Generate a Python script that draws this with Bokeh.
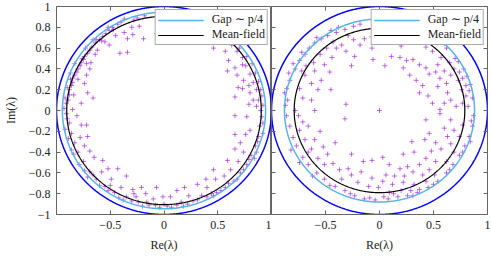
import numpy as np
from bokeh.plotting import figure
from bokeh.layouts import row
from bokeh.models import Range1d, FixedTicker, LinearAxis, Legend, LegendItem, ColumnDataSource
from bokeh.embed import file_html
from bokeh.resources import INLINE

FONT = "Liberation Serif, serif"

# ---------------- data ----------------
unit_radius = 1.0
gap_radius = [0.945, 0.88]        # "Gap ~ p/4" circle, left / right panel
meanfield_radius = [0.905, 0.79]  # mean-field circle, left / right panel

x_ticks = [-1.0, -0.5, 0.0, 0.5, 1.0]
x_tick_labels = ["", "−0.5", "0", "0.5", "1"]
y_ticks = [-1.0, -0.8, -0.6, -0.4, -0.2, 0.0, 0.2, 0.4, 0.6, 0.8, 1.0]
y_tick_labels = ["−1", "−0.8", "−0.6", "−0.4", "−0.2", "0", "0.2", "0.4", "0.6", "0.8", "1"]

left_eigs = [
    (-0.18, 0.91), (-0.37, 0.88), (-0.43, 0.83), (-0.48, 0.80), (-0.51, 0.77), (-0.54, 0.74),
    (-0.57, 0.71), (-0.60, 0.68), (-0.64, 0.65), (-0.67, 0.61), (-0.69, 0.58), (-0.71, 0.55),
    (-0.74, 0.52), (-0.75, 0.49), (-0.77, 0.46), (-0.78, 0.43), (-0.80, 0.40), (-0.81, 0.37),
    (-0.83, 0.34), (-0.85, 0.31), (-0.85, 0.27), (-0.86, 0.24), (-0.88, 0.20), (-0.88, 0.15),
    (-0.89, 0.10), (-0.91, 0.07), (-0.28, 0.87), (-0.47, 0.78), (-0.63, 0.68), (-0.76, 0.50),
    (-0.87, 0.30), (-0.92, 0.12), (-0.30, 0.80), (-0.45, 0.72), (-0.62, 0.58), (-0.72, 0.45),
    (-0.80, 0.30), (-0.84, 0.15), (-0.41, 0.55), (-0.34, 0.69), (-0.37, 0.75), (-0.29, 0.73),
    (-0.23, 0.81), (-0.07, 0.74), (-0.55, 0.66), (-0.51, 0.63), (-0.64, 0.54), (-0.68, 0.46),
    (-0.69, 0.40), (-0.72, 0.34), (-0.74, 0.26), (-0.71, 0.17), (-0.66, 0.12), (-0.77, 0.07),
    (-0.85, 0.01), (-0.34, 0.56), (-0.19, 0.69), (-0.58, 0.67),
    (0.09, 0.71), (0.19, 0.72), (0.29, 0.69), (0.40, 0.66), (0.46, 0.69), (0.52, 0.72),
    (0.46, 0.60), (0.57, 0.57), (0.60, 0.48), (0.59, 0.38), (0.66, 0.41), (0.73, 0.44),
    (0.68, 0.34), (0.74, 0.29), (0.79, 0.24), (0.73, 0.21), (0.80, 0.17), (0.83, 0.10),
    (0.79, 0.06), (0.86, 0.04), (0.59, 0.68), (0.63, 0.63), (0.68, 0.57), (0.73, 0.51),
    (0.76, 0.43), (0.80, 0.35), (0.83, 0.27), (0.86, 0.20), (0.88, 0.10), (0.66, 0.64),
    (0.77, 0.52), (0.85, 0.36), (0.90, 0.20), (0.92, 0.05), (0.69, 0.22), (0.66, 0.13),
    (-0.91, -0.03), (-0.88, -0.12), (-0.86, -0.22), (-0.83, -0.31), (-0.80, -0.40), (-0.75, -0.49),
    (-0.69, -0.59), (-0.63, -0.66), (-0.55, -0.73), (-0.46, -0.79), (-0.35, -0.83), (-0.24, -0.88),
    (-0.14, -0.91), (-0.04, -0.93), (-0.92, -0.18), (-0.86, -0.38), (-0.74, -0.58), (-0.60, -0.72),
    (-0.42, -0.84), (-0.20, -0.92), (-0.81, -0.05), (-0.77, -0.14), (-0.72, -0.14), (-0.71, -0.25),
    (-0.78, -0.26), (-0.74, -0.34), (-0.69, -0.39), (-0.65, -0.45), (-0.57, -0.48), (-0.52, -0.56),
    (-0.43, -0.56), (-0.35, -0.63), (-0.58, -0.59), (-0.49, -0.66), (-0.40, -0.74), (-0.29, -0.76),
    (-0.21, -0.74), (-0.17, -0.80), (-0.07, -0.74), (-0.10, -0.85), (-0.01, -0.83), (-0.26, -0.83),
    (0.91, -0.06), (0.89, -0.15), (0.88, -0.25), (0.85, -0.34), (0.81, -0.43), (0.77, -0.52),
    (0.71, -0.60), (0.65, -0.68), (0.57, -0.74), (0.49, -0.79), (0.40, -0.83), (0.31, -0.86),
    (0.22, -0.90), (0.12, -0.91), (0.03, -0.92), (0.92, -0.22), (0.84, -0.46), (0.68, -0.66),
    (0.46, -0.82), (0.18, -0.92), (0.77, -0.06), (0.80, -0.19), (0.76, -0.23), (0.66, -0.23),
    (0.71, -0.31), (0.66, -0.37), (0.74, -0.40), (0.59, -0.48), (0.69, -0.49), (0.46, -0.57),
    (0.62, -0.57), (0.56, -0.63), (0.48, -0.66), (0.39, -0.66), (0.31, -0.71), (0.40, -0.74),
    (0.19, -0.74), (0.12, -0.77), (0.23, -0.82), (0.06, -0.83), (0.66, -0.05),
    (-0.93, 0.02), (-0.90, -0.08), (-0.89, -0.27), (-0.84, -0.42), (-0.79, -0.52), (-0.71, -0.64),
    (-0.66, -0.62), (-0.52, -0.77), (-0.50, -0.72), (-0.38, -0.86), (-0.30, -0.87), (-0.28, -0.80),
    (-0.16, -0.88), (-0.08, -0.91), (0.00, -0.90), (0.07, -0.93), (0.16, -0.88), (0.27, -0.87),
    (0.35, -0.82), (0.44, -0.80), (0.53, -0.77), (0.60, -0.70), (0.74, -0.57), (0.79, -0.47),
    (0.86, -0.40), (0.87, -0.30), (0.92, -0.12), (0.90, 0.00), (0.91, 0.14), (0.88, 0.28),
    (0.82, 0.45), (0.70, 0.60), (-0.90, 0.22), (-0.87, 0.36), (-0.83, 0.45), (-0.73, 0.60),
    (-0.66, 0.68), (-0.52, 0.80), (-0.40, 0.85), (-0.25, 0.89),
]

right_eigs = [
    (-0.88, 0.17), (-0.86, 0.21), (-0.83, 0.29), (-0.78, 0.40), (-0.74, 0.48), (-0.69, 0.54),
    (-0.65, 0.60), (-0.60, 0.65), (-0.54, 0.69), (-0.48, 0.72), (-0.40, 0.75), (-0.32, 0.78),
    (-0.24, 0.81), (-0.18, 0.83), (-0.38, 0.80), (-0.87, 0.05), (-0.85, 0.10),
    (-0.72, 0.38), (-0.68, 0.43), (-0.69, 0.34), (-0.63, 0.26), (-0.74, 0.21), (-0.71, 0.12),
    (-0.63, 0.10), (-0.57, 0.20), (-0.54, 0.29), (-0.60, 0.38), (-0.61, 0.46), (-0.55, 0.54),
    (-0.49, 0.60), (-0.44, 0.51), (-0.51, 0.44), (-0.46, 0.37), (-0.40, 0.60), (-0.35, 0.63),
    (-0.31, 0.57), (-0.26, 0.43), (-0.24, 0.68), (-0.18, 0.63), (-0.14, 0.69), (-0.07, 0.71),
    (-0.43, 0.66), (-0.29, 0.72), (-0.07, 0.60), (-0.23, 0.52), (-0.06, 0.49), (-0.31, 0.06),
    (0.00, 0.00),
    (0.03, 0.71), (0.09, 0.69), (0.17, 0.68), (0.25, 0.69), (0.31, 0.66), (0.37, 0.68),
    (0.43, 0.61), (0.49, 0.57), (0.11, 0.52), (0.19, 0.51), (0.25, 0.48), (0.31, 0.49),
    (0.37, 0.44), (0.43, 0.41), (0.46, 0.35), (0.52, 0.37), (0.56, 0.31), (0.62, 0.26),
    (0.54, 0.23), (0.63, 0.17), (0.66, 0.10), (0.60, 0.07), (0.71, 0.04), (0.54, 0.44),
    (0.60, 0.38), (0.66, 0.34), (0.73, 0.29), (0.76, 0.20), (0.80, 0.14), (0.77, 0.07),
    (0.82, 0.04), (0.57, 0.51), (0.65, 0.46), (0.69, 0.40), (0.74, 0.37), (0.77, 0.31),
    (0.80, 0.24), (0.05, 0.43), (0.22, 0.41), (0.28, 0.34), (0.34, 0.29), (0.40, 0.24),
    (0.37, 0.17), (0.45, 0.14), (0.49, 0.07), (0.56, 0.01), (0.55, 0.66), (0.62, 0.60),
    (0.70, 0.50), (0.78, 0.40), (0.84, 0.25), (0.86, 0.12),
    (-0.86, -0.05), (-0.83, -0.15), (-0.80, -0.26), (-0.77, -0.34), (-0.71, -0.45), (-0.66, -0.52),
    (-0.58, -0.60), (-0.51, -0.66), (-0.41, -0.73), (-0.32, -0.77), (-0.23, -0.82), (-0.14, -0.85),
    (-0.04, -0.86), (-0.75, -0.05), (-0.71, -0.11), (-0.74, -0.19), (-0.66, -0.15), (-0.69, -0.28),
    (-0.60, -0.28), (-0.63, -0.37), (-0.52, -0.35), (-0.57, -0.46), (-0.48, -0.42), (-0.41, -0.31),
    (-0.32, -0.08), (-0.51, -0.52), (-0.43, -0.51), (-0.37, -0.57), (-0.26, -0.42), (-0.35, -0.66),
    (-0.26, -0.62), (-0.17, -0.59), (-0.07, -0.48), (-0.20, -0.69), (-0.10, -0.73), (-0.07, -0.65),
    (-0.01, -0.74), (-0.29, -0.56), (-0.15, -0.49),
    (0.86, -0.15), (0.83, -0.25), (0.79, -0.34), (0.74, -0.43), (0.68, -0.52), (0.62, -0.60),
    (0.54, -0.68), (0.45, -0.74), (0.35, -0.79), (0.26, -0.82), (0.17, -0.83), (0.08, -0.85),
    (0.87, -0.05), (0.56, -0.03), (0.66, -0.09), (0.43, -0.09), (0.77, -0.14), (0.69, -0.19),
    (0.60, -0.17), (0.74, -0.25), (0.63, -0.25), (0.46, -0.22), (0.42, -0.28), (0.52, -0.31),
    (0.66, -0.32), (0.57, -0.37), (0.48, -0.39), (0.69, -0.40), (0.32, -0.40), (0.22, -0.42),
    (0.03, -0.45), (0.09, -0.52), (0.43, -0.46), (0.52, -0.49), (0.62, -0.49), (0.37, -0.52),
    (0.26, -0.54), (0.19, -0.56), (0.31, -0.59), (0.46, -0.57), (0.06, -0.62), (0.14, -0.63),
    (0.23, -0.63), (0.40, -0.62), (0.51, -0.62), (0.03, -0.68), (0.12, -0.71), (0.22, -0.69),
    (0.32, -0.71), (0.43, -0.68), (0.09, -0.79), (0.20, -0.77), (0.29, -0.77), (0.37, -0.76),
    (-0.80, 0.45), (-0.72, 0.56), (-0.58, 0.70), (-0.45, 0.77), (-0.84, 0.36), (-0.82, -0.38),
    (-0.74, -0.50), (-0.62, -0.63), (-0.46, -0.72), (-0.27, -0.80), (-0.09, -0.84), (0.04, -0.83),
    (0.13, -0.80), (0.31, -0.82), (0.50, -0.71), (0.65, -0.57), (0.77, -0.40), (0.84, -0.30),
    (0.85, -0.10), (0.83, 0.19), (0.81, 0.33), (0.73, 0.47), (0.60, 0.64), (-0.66, -0.40),
    (-0.55, -0.20), (-0.78, 0.00), (-0.60, 0.00), (0.30, -0.30), (-0.45, 0.20), (0.20, 0.62),
]

# ---------------- styles ----------------
C_POINTS = "#9400d3"
C_UNIT = "#0000ff"
C_GAP = "#56b4e9"
C_MF = "#000000"
C_FRAME = "#666666"
C_TEXT = "#222222"

theta = np.linspace(0, 2 * np.pi, 721)


def circle_xy(r):
    return r * np.cos(theta), r * np.sin(theta)


def hide_labels(ax):
    ax.major_label_text_font_size = "0px"
    ax.major_label_text_color = None
    ax.major_label_standoff = 0


def make_panel(eigs, gap_r, mf_r, show_y, frame_w, b_left, b_right, mirror_right):
    p = figure(frame_width=frame_w, frame_height=208,
               x_range=Range1d(-1, 1), y_range=Range1d(-1, 1),
               output_backend="svg", toolbar_location=None,
               min_border_left=b_left, min_border_right=b_right,
               min_border_top=6, min_border_bottom=37)
    p.grid.visible = False
    p.outline_line_color = C_FRAME
    p.outline_line_width = 1
    p.background_fill_color = "white"
    p.border_fill_color = "white"

    src = ColumnDataSource(dict(re=[e[0] for e in eigs], im=[e[1] for e in eigs]))
    p.scatter("re", "im", source=src, marker="cross", size=5,
              line_color=C_POINTS, line_alpha=0.55, line_width=1)

    ux, uy = circle_xy(unit_radius)
    p.line(ux, uy, line_color=C_UNIT, line_width=1.5)
    gx, gy = circle_xy(gap_r)
    r_gap = p.line(gx, gy, line_color=C_GAP, line_width=1.5)
    mx, my = circle_xy(mf_r)
    r_mf = p.line(mx, my, line_color=C_MF, line_width=1.2)

    xa = p.xaxis[0]
    xa.ticker = FixedTicker(ticks=x_ticks)
    xa.major_label_overrides = {t: l for t, l in zip(x_ticks, x_tick_labels)}
    xa.axis_label = "Re(λ)"
    ya = p.yaxis[0]
    ya.ticker = FixedTicker(ticks=y_ticks)
    ya.major_label_overrides = {t: l for t, l in zip(y_ticks, y_tick_labels)}
    if show_y:
        ya.axis_label = "Im(λ)"
    for ax in (xa, ya):
        ax.major_tick_in = 4
        ax.major_tick_out = 0
        ax.minor_tick_line_color = None
        ax.major_tick_line_color = C_FRAME
        ax.axis_line_color = C_FRAME
        ax.major_label_standoff = 6
        ax.major_label_text_font = FONT
        ax.major_label_text_font_size = "12px"
        ax.major_label_text_color = C_TEXT
        ax.axis_label_text_font = FONT
        ax.axis_label_text_font_size = "12px"
        ax.axis_label_text_font_style = "normal"
        ax.axis_label_text_color = C_TEXT
        ax.axis_label_standoff = 6
    ya.axis_label_standoff = 8
    if not show_y:
        hide_labels(ya)

    mirrors = [("above", x_ticks)]
    if mirror_right:
        mirrors.append(("right", y_ticks))
    for loc, ticks in mirrors:
        ax = LinearAxis(ticker=FixedTicker(ticks=ticks))
        ax.major_tick_in = 4
        ax.major_tick_out = 0
        ax.minor_tick_line_color = None
        ax.major_tick_line_color = C_FRAME
        ax.axis_line_color = None
        hide_labels(ax)
        p.add_layout(ax, loc)

    legend = Legend(items=[LegendItem(label="Gap ∼ p/4", renderers=[r_gap]),
                           LegendItem(label="Mean-field", renderers=[r_mf])],
                    location="top_right", margin=3, padding=2, spacing=-1,
                    glyph_width=46, glyph_height=12, label_height=12,
                    label_standoff=8,
                    label_text_font=FONT, label_text_font_size="12px",
                    label_text_color=C_TEXT,
                    border_line_color="#555555", border_line_width=1,
                    background_fill_color="white", background_fill_alpha=1.0)
    p.add_layout(legend)
    return p


left = make_panel(left_eigs, gap_radius[0], meanfield_radius[0], True, 215, 48, 0, False)
right = make_panel(right_eigs, gap_radius[1], meanfield_radius[1], False, 216, 0, 4, True)

layout = row(left, right)
open("out.html", "w").write(file_html(layout, INLINE))
